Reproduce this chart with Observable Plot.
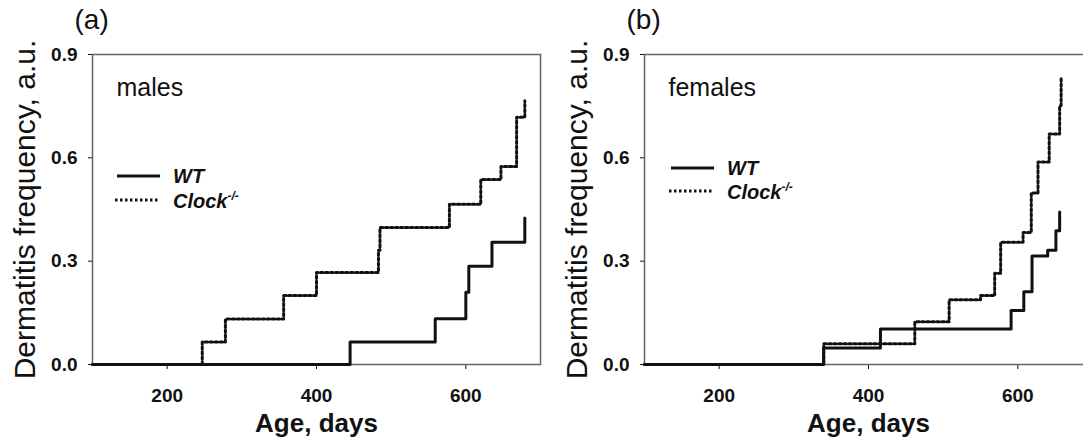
<!DOCTYPE html>
<html><head><meta charset="utf-8">
<script src="https://cdn.jsdelivr.net/npm/d3@7"></script>
<script src="https://cdn.jsdelivr.net/npm/@observablehq/plot@0.6"></script>
<style>
body{margin:0;background:#fff;}
#wrap{display:flex;width:1083px;height:439px;overflow:hidden;background:#fff;}
#wrap > div{flex:0 0 552px;width:552px;}
</style></head><body><div id="wrap"><div id="pa"></div><div id="pb"></div></div>
<script>
// ---- data ----
const xTicks = [200, 400, 600];
const yTicks = [0, 0.3, 0.6, 0.9];
const xLabel = "Age, days";
const yLabel = "Dermatitis frequency, a.u.";
const seriesNames = ["WT", "Clock"];

const maleWTDays   = [100, 445, 559, 600, 604, 635, 679];
const maleWTVals   = [0, 0.065, 0.133, 0.21, 0.285, 0.355, 0.425];
const maleKODays   = [100, 247, 278, 356, 400, 483, 485, 578, 620, 647, 668, 679];
const maleKOVals   = [0, 0.065, 0.132, 0.2, 0.267, 0.332, 0.398, 0.465, 0.537, 0.575, 0.718, 0.766];

const femaleWTDays = [100, 340, 416, 591, 608, 619, 640, 651, 656];
const femaleWTVals = [0, 0.048, 0.103, 0.157, 0.211, 0.315, 0.332, 0.388, 0.443];
const femaleKODays = [100, 340, 462, 508, 550, 569, 577, 607, 618, 627, 642, 656, 658];
const femaleKOVals = [0, 0.06, 0.124, 0.188, 0.2, 0.265, 0.355, 0.383, 0.498, 0.588, 0.669, 0.752, 0.834];

const FONT = "'Liberation Sans', Arial, Helvetica, sans-serif";
const DASH = "2.5,2.5";

function legendMark(lx, y1, y2) {
  return () => {
    const g = d3.create("svg:g").attr("font-family", FONT).attr("font-weight", "bold").attr("font-style", "italic")
      .attr("font-size", 20).attr("fill", "#111").attr("text-anchor", "start");
    g.append("line").attr("x1", lx).attr("x2", lx + 43).attr("y1", y1).attr("y2", y1)
      .attr("stroke", "#111").attr("stroke-width", 3);
    g.append("text").attr("x", lx + 56).attr("y", y1 + 7).text(seriesNames[0]);
    g.append("line").attr("x1", lx - 2).attr("x2", lx + 43).attr("y1", y2).attr("y2", y2)
      .attr("stroke", "#111").attr("stroke-width", 3).attr("stroke-dasharray", DASH);
    const t = g.append("text").attr("x", lx + 56).attr("y", y2 + 8);
    t.append("tspan").text(seriesNames[1]);
    t.append("tspan").attr("dy", -8).attr("font-size", 12).text("-/-");
    return g.node();
  };
}

function panel(tag, sexLabel, wtDays, wtVals, koDays, koVals, legX, legY1, legY2) {
  const wt = wtDays.map((d, i) => ({day: d, value: wtVals[i]}));
  const ko = koDays.map((d, i) => ({day: d, value: koVals[i]}));
  return Plot.plot({
    width: 552, height: 439,
    marginLeft: 92, marginRight: 12, marginTop: 54, marginBottom: 75,
    style: {fontFamily: FONT, fontSize: "19px", fontWeight: "bold", color: "#111", background: "#fff", overflow: "visible"},
    x: {domain: [100, 700], ticks: xTicks, tickSize: 5, tickPadding: 19, label: null},
    y: {domain: [0, 0.9], ticks: yTicks, tickFormat: d3.format(".1f"), tickSize: 4, tickPadding: 11, label: null},
    marks: [
      Plot.frame({stroke: "#666", strokeWidth: 1.5}),
      Plot.line(wt, {x: "day", y: "value", curve: "step-after", stroke: "#111", strokeWidth: 3}),
      Plot.line(ko, {x: "day", y: "value", curve: "step-after", stroke: "#111", strokeWidth: 3, strokeDasharray: DASH}),
      Plot.text([tag], {frameAnchor: "top-left", textAnchor: "start", lineAnchor: "middle", dx: -18, dy: -34, fontSize: 28, fontWeight: "normal"}),
      Plot.text([sexLabel], {frameAnchor: "top-left", textAnchor: "start", lineAnchor: "middle", dx: 24, dy: 33, fontSize: 25, fontWeight: "normal"}),
      Plot.text([xLabel], {frameAnchor: "bottom", textAnchor: "middle", lineAnchor: "middle", dy: 59, fontSize: 26, fontWeight: "bold"}),
      Plot.text([yLabel], {frameAnchor: "left", textAnchor: "middle", lineAnchor: "middle", rotate: -90, dx: -67, fontSize: 30, fontWeight: "normal"}),
      legendMark(legX, legY1, legY2)
    ]
  });
}

document.getElementById("pa").append(panel("(a)", "males", maleWTDays, maleWTVals, maleKODays, maleKOVals, 117, 176, 200));
document.getElementById("pb").append(panel("(b)", "females", femaleWTDays, femaleWTVals, femaleKODays, femaleKOVals, 119, 168, 191));
</script></body></html>
